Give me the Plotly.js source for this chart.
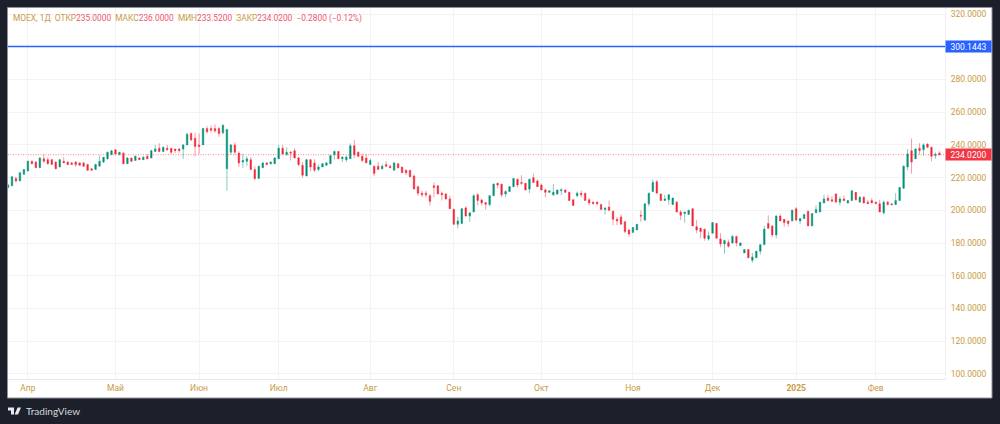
<!DOCTYPE html>
<html><head><meta charset="utf-8">
<script src="https://cdn.plot.ly/plotly-3.0.1.min.js"></script>
<style>html,body{margin:0;padding:0;background:#1c202b;overflow:hidden}#c{width:1000px;height:424px}</style>
</head><body><div id="c"></div>
<script>
const opens=[214,215,219.5,218,222,224,230,229.5,226,231.5,231,231,229.5,226.5,230,229.5,229,229.5,229,229,228,225.5,225,227,229.5,231.5,234,237,234,235,
228.5,232,230.5,232,231,233,232,236,238,236,238,238,237.5,237.5,237.5,240,247,244,240,240,250,250,250,250,247.5,225.5,235.5,240,235,229.5,
230,231,225,219.5,226,229,228.5,228.5,231.5,238,234,235.5,236.5,232,227.5,221,231,229,225,226.5,227.5,228.5,234,236,231.5,231,231.5,239.5,235.5,233,
232,228,227,227,225.5,228,227,224.5,228.5,226.5,224.5,224.5,221,214.5,210.5,210.5,209,215,215,210.5,210,207,200.5,191.5,192,201.5,196.5,199,209.5,206.3,
204.7,203.5,209,216.5,216,210,211.5,214.5,219,217,216.5,213,220,218,215.5,212.5,211,209.5,210,212,212.5,211,206.5,209,210.5,210.5,206.5,205,205,203.5,
200.5,202,199.5,194.5,196,193,188,186.5,188,197,194,204,211.5,217.5,210,206,206.5,203.5,205,199,198,197.5,201,190,189,188.5,182.5,186,192,182.5,
179.5,180.5,180,184,178.5,174,176,169.5,171,175,179,192,190.5,185,196.5,194.5,193.5,193.5,201,193.5,195,199.5,190.5,198.5,199,204.5,207.5,206.5,210,205,
207,204.5,206,211,205,208,205,206,205,204,198.5,205,204,203.5,206,213.5,226.5,236.5,231.5,238,237,240.5,238.5,233.5,235];
const highs=[216,221,220.5,223.5,225,230.5,230.5,230,232.5,234,232.5,231.5,230,231.5,232.5,230,229.5,230,229.5,229.5,228.5,225.5,228.5,233.5,232.5,236,236.7,237.5,235.7,235.5,
232.5,232.2,233.5,232.5,233,234.5,237,240,241,239,240,238,237.7,238,240.5,247.5,247.5,247.5,247,250.5,251.5,252,252.5,251,252.5,249.5,240.5,241.5,236,234.5,
233,232.5,227,226.5,229.5,229.5,229.8,232.5,240,240,238.5,236.3,238,232.7,229.5,231.5,231.3,231.2,228,229,229.5,233.8,236.5,236.3,233.2,233.5,241,243,236,234.5,
234.5,231.5,227.3,229.5,228,230,227.7,229.5,229,226.5,225,224.5,222,215,212,212,210,217,215.5,211.5,210.5,209,201.2,196,201.5,202.5,198.5,209.7,210.5,207,
205.2,209.3,216.5,217,216.3,212.5,214.7,219.8,219.5,221.5,216.8,219.3,222.5,219,216.5,213.5,212,216,209.5,213.7,212.7,211.5,206.7,211.5,212.2,210.5,207.5,205.5,205.5,204,
201.8,206,199.8,196,197.5,193.3,188.5,189.8,191.5,200,204.2,210.8,219,218.5,210.3,209.5,209.8,207.7,205.8,200.2,199.2,200.3,201.3,194,189.5,188.7,187,192.7,192.5,186,
182,182.2,185,184.5,180.5,176.3,176,174,175.3,179.2,190.5,197,190.8,197,198,194.7,193.8,200.5,202,194.3,197.7,199.7,198.2,203,205,209.5,209.5,208.7,210.5,208.5,
209,206.3,212.2,210.5,208.7,208.7,206.3,207.5,205.3,206.5,206,205.7,204.2,210.5,214.3,227.5,237.5,244,238,241,241,241,239,235.5,236];
const lows=[213.5,215,217,218,222,224,229,226,226,229,228,228,225,226.5,229,227.5,228,226.5,227.5,226.5,224.3,224.3,225,227,229,231,234,234.3,234,228.3,
228.3,229.5,230.3,231,230.9,231.3,232,235.9,235.5,235.8,236.5,234.5,235,235.3,231.5,240,242.5,233,234.5,240,247,247.5,247.5,245,246.5,212,234,234,226.5,226,
227,225,218.5,219.5,226,227.5,228,228.5,231.5,234,233.5,230.5,232,227,220,221,224,223.5,224,226.5,227.5,228.5,231,231.5,229.5,229.5,231.5,232,232.5,229.5,
229,227.8,221,225,224.8,226.5,225.7,224.5,225.7,223,221.5,220.5,213,209,208,208,203,208,210,206,206.5,201,191,189,192,196.2,193,199,203,203,
200.4,202.5,209,213.5,208,208,211.3,214.3,214,215.5,212.2,210.5,216.8,214.4,212.3,208,210.8,208.8,210,209.3,210.7,206,203,208,208,206,203,203.7,203,200.2,
197.5,199.6,191,191,191.5,186,184,186.5,188,193,194,202.5,211.5,210.5,205.8,205.8,203.5,203.3,198.8,194,192.5,197.5,190.5,186,183,181.5,181.5,186,182.8,177.5,
173.5,177.3,180,178,178,174,171,168,171,173,179,189,183.5,183,193.5,190,190,193.5,194,191.5,195,190.5,190.5,198.5,199,204.3,205.5,205.5,205,203,
205.5,204,206,206,205,204.3,204,204.5,203.7,199,197.5,203,203,203.5,206,213.3,224.5,222.5,231.5,234,233.5,238,230,231.5,233.52];
const closes=[215.5,220.5,218,223,225,230,228.5,226,232,230,228.5,228,225.5,231,229,228,228,228,227.5,227,224.5,224.5,228,230,232.5,235.5,236.5,234.5,235.5,228.5,
232,230,233,231,232.5,231.5,236.5,237.5,236,238.5,237,235.5,236.5,236.5,240,246.5,243,239,239,250,248,249,248.5,247,252,249.5,240,235.5,229,230.5,
231.5,225,219.5,227,229,228,229.5,232,238,234.5,235.5,235,232,228,221.5,231,226.5,224.5,226.5,228.5,229,233.5,236,231.5,232.5,232.5,239.5,234,233,230.5,
229,230.5,222.5,225,227,227,226,229,226,223,223,220.5,213,210.5,209.5,209.5,205.5,214,210,209.5,207,201,191.5,193.5,201,196.5,198.5,209,206,204.5,
203.7,209,216,215.5,209.5,211.5,214.5,219.5,215.5,216.5,212.5,219,217,214.5,212.5,211,212,211,212.5,212.5,211,206,203,210.5,209.5,206,204.5,204,204,200.5,
201.5,200,194.5,193.5,191.5,187,185.5,189.5,191.5,196.5,204,210.5,217,210.5,206,207,209.5,207.5,199,197,199,200,190.5,188,187,183,184.5,192.5,183,179.5,
181.5,178,184,180,180,176,171,171.5,175,179,188.5,189,185,196.5,193.5,192.5,192,200,194,195,197.5,190.5,198,200.5,205,207,206,205.5,205,207,
206,206,212,206.5,208,204.5,204,204.5,204.2,199,205,203.5,203.5,206,214,227,234.5,229.5,237.5,236.5,240,238.5,233,234.3,234.02];
const monthIdx=[5,27,48,68,91,112,134,157,177,198,218];
const monthLbl=['Апр','Май','Июн','Июл','Авг','Сен','Окт','Ноя','Дек','<b>2025</b>','Фев'];
const priceTicks=[100,120,140,160,180,200,220,240,260,280,320];
const lastPrice=234.02, markPrice=300.1443;
const idx=closes.map((_,i)=>i);

const W=1000,H=424,L=8,R=945,T=8,B=379;
const px=x=>(x-L)/(R-L), py=y=>(B-y)/(B-T);
const gold='#c99b45', red='#f23645', blue='#2962ff';
const s=t=>`<span style="color:${gold}">${t}</span>`, v=t=>`<span style="color:#f0556a">${t}</span>`;
const legend=s('MOEX, 1Д')+'  '+s('ОТКР')+v('235.0000')+'  '+s('МАКС')+v('236.0000')+'  '+s('МИН')+v('233.5200')+'  '+s('ЗАКР')+v('234.0200')+'  '+v('−0.2800 (−0.12%)');

const candles={type:'candlestick',x:idx,open:opens,high:highs,low:lows,close:closes,whiskerwidth:0,
  increasing:{line:{color:'rgba(8,153,129,0.5)',width:1},fillcolor:'#068a73'},
  decreasing:{line:{color:'rgba(242,54,69,0.5)',width:1},fillcolor:'#f01f33'},hoverinfo:'skip'};
const markLine={type:'scatter',mode:'lines',x:[0,235.4],y:[markPrice,markPrice],line:{color:blue,width:1.6},hoverinfo:'skip'};
const lastLine={type:'scatter',mode:'lines',x:[0,235.4],y:[lastPrice,lastPrice],line:{color:'#f23645',width:1,dash:'1px,1.5px'},opacity:.6,hoverinfo:'skip'};

const logo=`M ${px(8)} ${py(407.5)} L ${px(14)} ${py(407.5)} L ${px(14)} ${py(414.5)} L ${px(11)} ${py(414.5)} L ${px(11)} ${py(410.5)} L ${px(8)} ${py(410.5)} Z `
 +`M ${px(17.6)} ${py(407.5)} L ${px(21)} ${py(407.5)} L ${px(18)} ${py(414.5)} L ${px(14.6)} ${py(414.5)} Z`;

const layout={width:W,height:H,showlegend:false,paper_bgcolor:'#1c202b',plot_bgcolor:'#ffffff',boxgap:0.45,
  margin:{l:L,r:W-R,t:T,b:H-B,pad:0},
  font:{family:'Roboto, "Liberation Sans", sans-serif',size:8.5,color:gold},
  xaxis:{type:'linear',range:[0,235.4],rangeslider:{visible:false},tickmode:'array',tickvals:monthIdx,ticktext:monthLbl,
    showgrid:true,gridcolor:'#f3f3f5',gridwidth:1,zeroline:false,ticks:'',showline:true,linecolor:'#e6e7ee',linewidth:1,
    tickfont:{size:8.5,color:gold},ticklabelstandoff:1},
  yaxis:{side:'right',type:'linear',range:[96.9,323.7],tickmode:'array',tickvals:priceTicks,tickformat:'.4f',
    showgrid:true,gridcolor:'#f3f3f5',gridwidth:1,zeroline:false,ticks:'',showline:true,linecolor:'#eeeef3',linewidth:1,
    tickfont:{size:8.5,color:gold},ticklabelstandoff:3},
  shapes:[
    {type:'rect',layer:'below',xref:'paper',yref:'paper',x0:px(7.5),x1:px(992),y0:py(398),y1:py(7.5),fillcolor:'#ffffff',line:{color:'#8f929b',width:1}},
    {type:'path',layer:'above',xref:'paper',yref:'paper',path:logo,fillcolor:'#e6e8ee',line:{width:0}}
  ],
  annotations:[
    {xref:'paper',yref:'paper',x:px(11),y:py(18),xanchor:'left',yanchor:'middle',text:legend,showarrow:false,font:{size:8.35,color:gold}},
    {xref:'paper',yref:'y',x:px(945),y:markPrice,xanchor:'left',yanchor:'middle',text:markPrice.toFixed(4),showarrow:false,bgcolor:blue,width:45,height:11,borderpad:0,font:{size:8.5,color:'#ffffff'}},
    {xref:'paper',yref:'y',x:px(945),y:lastPrice,xanchor:'left',yanchor:'middle',text:lastPrice.toFixed(4),showarrow:false,bgcolor:red,width:45,height:11,borderpad:0,font:{size:8.5,color:'#ffffff'}},
    {xref:'paper',yref:'paper',x:px(24),y:py(411),xanchor:'left',yanchor:'middle',text:'TradingView',showarrow:false,font:{size:10,color:'#d6d8de',family:'Lato, "Liberation Sans", sans-serif'}}
  ]};
Plotly.newPlot('c',[candles,lastLine,markLine],layout,{displayModeBar:false,staticPlot:true});
</script></body></html>
